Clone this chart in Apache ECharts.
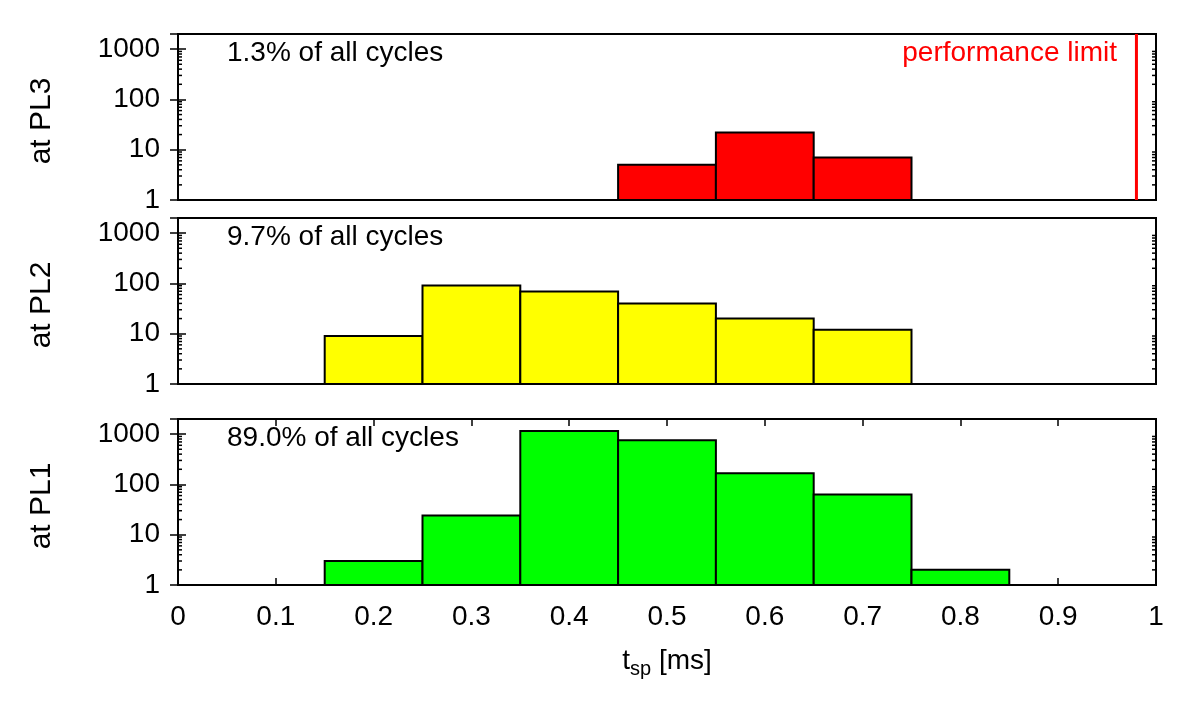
<!DOCTYPE html>
<html><head><meta charset="utf-8">
<script src="https://cdn.jsdelivr.net/npm/echarts@6/dist/echarts.min.js"></script>
<style>html,body{margin:0;padding:0;background:#fff}#c{width:1200px;height:709px}</style>
</head><body><div id="c"></div>
<script>
// ---- data ----
const bins = [0.1, 0.2, 0.3, 0.4, 0.5, 0.6, 0.7, 0.8, 0.9];
const binWidth = 0.1;
const countsPL3 = [1, 1, 1, 1, 5, 22, 7, 1, 1];
const countsPL2 = [1, 9, 91, 69, 40, 20, 12, 1, 1];
const countsPL1 = [1, 3, 24, 1150, 760, 166, 63, 2, 1];
const panelNames = ['at PL3', 'at PL2', 'at PL1'];
const shares = ['1.3% of all cycles', '9.7% of all cycles', '89.0% of all cycles'];
const perfLimit = 0.98;
const perfLabel = 'performance limit';
const xTitleMain = 't';
const xTitleSub = 'sp';
const xTitleUnit = '[ms]';
const yMinorTicks = [2, 3, 4, 5, 6, 7, 8, 9, 20, 30, 40, 50, 60, 70, 80, 90, 200, 300, 400, 500, 600, 700, 800, 900];

// ---- layout / style ----
const FONT = '"Liberation Sans", Arial, Helvetica, sans-serif';
const FS = 28;
const fills = ['#ff0000', '#ffff00', '#00ff00'];
const panelCounts = [countsPL3, countsPL2, countsPL1];
const tops = [34, 218, 419];
const H = 166, LEFT = 178, RIGHT = 44;

const grids = [], xAxes = [], yAxes = [], series = [], titles = [];
const isPow10 = v => { const l = Math.log10(v); return Math.abs(l - Math.round(l)) < 1e-6; };

for (let i = 0; i < 3; i++) {
  grids.push({ left: LEFT, right: RIGHT, top: tops[i], height: H, show: true,
    borderColor: '#000', borderWidth: 2, backgroundColor: 'transparent' });
  const last = i === 2;
  // bottom x axis
  xAxes.push({ type: 'value', gridIndex: i, min: 0, max: 1, interval: 0.1, position: 'bottom',
    axisLine: { show: false }, splitLine: { show: false },
    axisTick: { show: last, inside: true, length: 7, lineStyle: { color: '#000', width: 1.5 } },
    axisLabel: { show: last, margin: 18, fontSize: FS, color: '#000', fontFamily: FONT,
      formatter: v => String(Math.round(v * 10) / 10) },
    name: last ? '{t|' + xTitleMain + '}{s|' + xTitleSub + '}{t| ' + xTitleUnit + '}' : '',
    nameLocation: 'middle', nameGap: 58,
    nameTextStyle: { rich: { t: { fontSize: FS, fontFamily: FONT, color: '#000' },
      s: { fontSize: 20, fontFamily: FONT, color: '#000', padding: [16, 0, 0, 0] } } } });
  // top mirror x axis
  xAxes.push({ type: 'value', gridIndex: i, min: 0, max: 1, interval: 0.1, position: 'top',
    axisLine: { show: false }, splitLine: { show: false }, axisLabel: { show: false },
    axisTick: { show: last, inside: true, length: 7, lineStyle: { color: '#000', width: 1.5 } } });
  // left y axis
  yAxes.push({ type: 'log', logBase: 10, gridIndex: i, min: 1, max: 2000, position: 'left',
    axisLine: { show: false }, splitLine: { show: false },
    axisTick: { show: true, inside: true, length: 8, lineStyle: { color: '#000', width: 1.5 } },
    axisLabel: { margin: 18, fontSize: FS, color: '#000', fontFamily: FONT, padding: [3, 0, 0, 0],
      formatter: v => isPow10(v) ? String(Math.round(v)) : '' },
    name: panelNames[i], nameLocation: 'middle', nameGap: 121, nameRotate: 90,
    nameTextStyle: { fontSize: 30, color: '#000', fontFamily: FONT, padding: [0, 8, 0, 0] } });
  // right y axis
  yAxes.push({ type: 'log', logBase: 10, gridIndex: i, min: 1, max: 2000, position: 'right',
    axisLine: { show: false }, splitLine: { show: false }, axisLabel: { show: false },
    axisTick: { show: true, inside: true, length: 8, lineStyle: { color: '#000', width: 1.5 } } });

  const fill = fills[i];
  series.push({ type: 'custom', xAxisIndex: 2 * i, yAxisIndex: 2 * i, clip: false, z: 5,
    data: bins.map((b, k) => [b, panelCounts[i][k]]),
    renderItem: (params, api) => {
      const x = api.value(0), v = api.value(1);
      const p0 = api.coord([x - binWidth / 2, v]);
      const p1 = api.coord([x + binWidth / 2, 1]);
      return { type: 'rect', shape: { x: p0[0], y: p0[1], width: p1[0] - p0[0], height: p1[1] - p0[1] },
        style: { fill: fill, stroke: '#000', lineWidth: 2 } };
    } });
  // minor log ticks on both sides
  series.push({ type: 'custom', xAxisIndex: 2 * i, yAxisIndex: 2 * i, clip: false, z: 4, silent: true,
    data: yMinorTicks.map(v => [0, v]),
    renderItem: (params, api) => {
      const v = api.value(1);
      const a = api.coord([0, v]), b = api.coord([1, v]);
      const st = { stroke: '#000', lineWidth: 1.5 };
      return { type: 'group', children: [
        { type: 'line', shape: { x1: a[0], y1: a[1], x2: a[0] + 4, y2: a[1] }, style: st },
        { type: 'line', shape: { x1: b[0], y1: b[1], x2: b[0] - 4, y2: b[1] }, style: st } ] };
    } });
  titles.push({ text: shares[i], left: 227, top: tops[i] + 5, padding: 0,
    textStyle: { fontSize: FS, fontWeight: 'normal', color: '#000', fontFamily: FONT, lineHeight: 28 } });
}
// performance limit line in top panel
series.push({ type: 'line', xAxisIndex: 0, yAxisIndex: 0, symbol: 'none', z: 6,
  data: [[perfLimit, 1], [perfLimit, 2000]], lineStyle: { color: '#ff0000', width: 3 } });
titles.push({ text: perfLabel, right: 83, top: 39, padding: 0,
  textStyle: { fontSize: FS, fontWeight: 'normal', color: '#ff0000', fontFamily: FONT, lineHeight: 28 } });

const chart = echarts.init(document.getElementById('c'), null, { renderer: 'canvas' });
chart.setOption({ animation: false, backgroundColor: '#fff', title: titles,
  grid: grids, xAxis: xAxes, yAxis: yAxes, series: series });
</script></body></html>
